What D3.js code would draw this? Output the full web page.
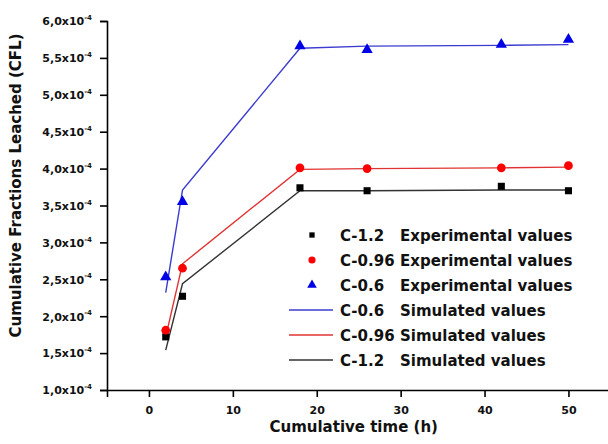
<!DOCTYPE html>
<html>
<head>
<meta charset="utf-8">
<script src="https://cdn.jsdelivr.net/npm/d3@7"></script>
<style>
  body { margin: 0; background: #fff; }
  text { font-family: "DejaVu Sans", sans-serif; font-weight: bold; }
</style>
</head>
<body>
<svg id="chart" width="608" height="444"></svg>
<script>
// data (values in units of 1e-4)
const times = [2, 4, 18, 26, 42, 50];

const expC12  = [1.72, 2.27, 3.74, 3.70, 3.76, 3.70];
const expC096 = [1.81, 2.65, 4.01, 4.00, 4.01, 4.04];
const expC06  = [2.53, 3.55, 5.66, 5.61, 5.68, 5.75];

const simC06  = [2.32, 3.71, 5.63, 5.66, 5.67, 5.68];
const simC096 = [1.72, 2.71, 3.99, 4.00, 4.01, 4.02];
const simC12  = [1.54, 2.44, 3.70, 3.70, 3.71, 3.71];

const xTicks = [0, 10, 20, 30, 40, 50];
const yTicks = [1.0, 1.5, 2.0, 2.5, 3.0, 3.5, 4.0, 4.5, 5.0, 5.5, 6.0];

const legendItems = [
  { name: "C-1.2",  desc: "Experimental values", type: "square" },
  { name: "C-0.96", desc: "Experimental values", type: "circle" },
  { name: "C-0.6",  desc: "Experimental values", type: "triangle" },
  { name: "C-0.6",  desc: "Simulated values", type: "line", color: "#3b3bd0" },
  { name: "C-0.96", desc: "Simulated values", type: "line", color: "#e03333" },
  { name: "C-1.2",  desc: "Simulated values", type: "line", color: "#333333" }
];

const svg = d3.select("#chart");
const margin = { top: 21, left: 107, bottom: 54 };
const height = 444;

const x = d3.scaleLinear().domain([-5, 55]).range([margin.left, margin.left + 60 * 8.39]);
const y = d3.scaleLinear().domain([1.0, 6.0]).range([height - margin.bottom, margin.top]);

// axes
const gX = svg.append("g").attr("transform", `translate(0,${height - margin.bottom})`);
gX.call(d3.axisBottom(x).tickValues(d3.range(-5, 56, 5)).tickSize(4).tickFormat(""));
gX.call(d3.axisBottom(x).tickValues(xTicks).tickSize(7).tickPadding(9).tickFormat(d3.format("d")));
gX.select(".domain").attr("stroke-width", 1.6);
gX.selectAll("line").attr("stroke-width", 1.6);
gX.selectAll("text").attr("font-size", 11).attr("fill", "#111");

const gY = svg.append("g").attr("transform", `translate(${margin.left},0)`);
gY.call(d3.axisLeft(y).tickValues(d3.range(1.0, 6.01, 0.25)).tickSize(4).tickFormat(""));
gY.call(d3.axisLeft(y).tickValues(yTicks).tickSize(7).tickPadding(5).tickFormat(""));
gY.select(".domain").attr("stroke-width", 1.6);
gY.selectAll("line").attr("stroke-width", 1.6);
gY.selectAll(".tick").filter(d => yTicks.some(t => Math.abs(t - d) < 1e-9)).each(function(d) {
  const t = d3.select(this).select("text")
    .attr("font-size", 11).attr("fill", "#111").attr("x", -15).attr("dy", "0.35em");
  t.text(null);
  t.append("tspan").text(d.toFixed(1).replace(".", ",") + "x10");
  t.append("tspan").attr("font-size", 7).attr("dy", "-0.75em").text("-4");
});

// axis titles
svg.append("text")
  .attr("x", x(25) - 5).attr("y", 432)
  .attr("text-anchor", "middle").attr("font-size", 15).attr("fill", "#111")
  .text("Cumulative time (h)");
svg.append("text")
  .attr("transform", `translate(21,${(margin.top + height - margin.bottom) / 2 - 20}) rotate(-90)`)
  .attr("text-anchor", "middle").attr("font-size", 15).attr("fill", "#111")
  .text("Cumulative Fractions Leached  (CFL)");

// simulated lines
const line = d3.line().x((d, i) => x(times[i])).y(d => y(d));
[[simC06, "#3b3bd0"], [simC096, "#e03333"], [simC12, "#333333"]].forEach(([vals, c]) => {
  svg.append("path").attr("d", line(vals)).attr("fill", "none")
    .attr("stroke", c).attr("stroke-width", 1.4);
});

// experimental markers
const sym = {
  square: d3.symbol().type(d3.symbolSquare).size(50),
  circle: d3.symbol().type(d3.symbolCircle).size(60),
  triangle: d3.symbol().type(d3.symbolTriangle).size(55)
};
const symColor = { square: "#000000", circle: "#ff0000", triangle: "#0000e6" };
[[expC12, "square"], [expC096, "circle"], [expC06, "triangle"]].forEach(([vals, t]) => {
  svg.append("g").selectAll("path").data(vals).join("path")
    .attr("transform", (d, i) => `translate(${x(times[i])},${y(d)})`)
    .attr("d", sym[t]()).attr("fill", symColor[t]);
});

// legend
const lg = svg.append("g").attr("transform", "translate(0,235)");
legendItems.forEach((it, i) => {
  const row = lg.append("g").attr("transform", `translate(0,${i * 25})`);
  if (it.type === "line") {
    row.append("line").attr("x1", 289).attr("x2", 333).attr("y1", 0).attr("y2", 0)
      .attr("stroke", it.color).attr("stroke-width", 1.4);
  } else {
    const small = { square: 28, circle: 40, triangle: 40 };
    row.append("path").attr("transform", "translate(312,0)")
      .attr("d", d3.symbol().type(it.type === "square" ? d3.symbolSquare : it.type === "circle" ? d3.symbolCircle : d3.symbolTriangle).size(small[it.type])())
      .attr("fill", symColor[it.type]);
  }
  row.append("text").attr("x", 340).attr("y", 5.5).attr("font-size", 15).attr("fill", "#111").text(it.name);
  row.append("text").attr("x", 400).attr("y", 5.5).attr("font-size", 15).attr("fill", "#111").text(it.desc);
});
</script>
</body>
</html>
